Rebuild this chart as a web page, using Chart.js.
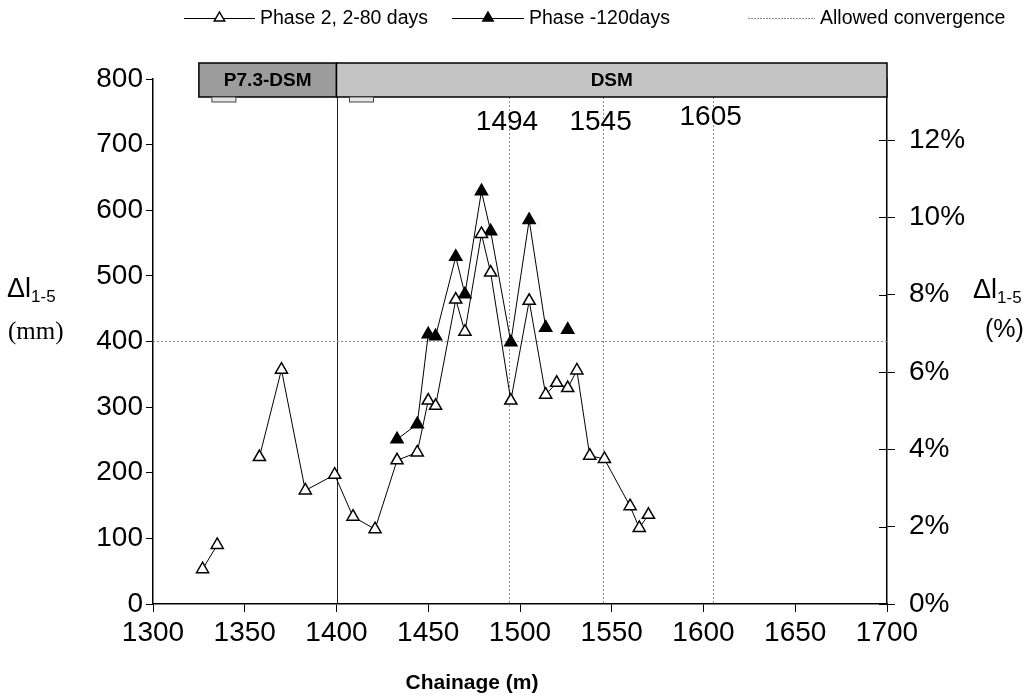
<!DOCTYPE html>
<html>
<head>
<meta charset="utf-8">
<script src="https://cdn.jsdelivr.net/npm/chart.js@4/dist/chart.umd.min.js"></script>
<style>
  html, body { margin: 0; padding: 0; background: #fff; }
</style>
</head>
<body>
<canvas id="c" width="1033" height="696"></canvas>
<script>
'use strict';

// Convergence Δl1-5 along the chainage, two survey phases plus the allowed limit.
// null values break the line where the original chart has no segment.
const phase2Chainage = [1327, 1335, 1346, 1358, 1370, 1383, 1399, 1409, 1421, 1433, 1444, 1450, 1454,
                        1465, 1470, 1479, 1484, 1495, 1505, 1514, 1520, 1526, 1531, 1538, 1546, 1560, 1565, 1570];
const phase2Values   = [53, 90, null, 224, 357, 173, 197, 133, 114, 219, 231, 310, 302,
                        464, 415, 564, 505, 310, 462, 319, 337, 329, 356, 226, 221, 149, 116, 136];

const phase120Chainage = [1433, 1444, 1450, 1454, 1465, 1470, 1479, 1484, 1495, 1505, 1514, 1520, 1526];
const phase120Values   = [251, 274, 411, 408, 529, 472, 629, 568, 399, 585, 421, null, 418];

const allowedChainage = [1300, 1700];
const allowedValues   = [400, 400];

const xTicks   = [1300, 1350, 1400, 1450, 1500, 1550, 1600, 1650, 1700];
const yTicks   = [0, 100, 200, 300, 400, 500, 600, 700, 800];
const pctTicks = [0, 2, 4, 6, 8, 10, 12];
const PCT_MAX  = 13.58;          // right axis top, matching 800 mm on the left

const refChainages = [1494, 1545, 1605];
const refLabels    = ['1494', '1545', '1605'];
const zoneStart = [1325, 1400];
const zoneEnd   = [1400, 1700];
const zoneNames = ['P7.3-DSM', 'DSM'];
const zoneFills = ['#9c9c9c', '#c4c4c4'];

const SANS  = "'Liberation Sans', Arial, sans-serif";
const SERIF = "'Liberation Serif', 'Times New Roman', serif";

const toPoints = (xs, ys) => xs.map((x, i) => ({x, y: ys[i]}));

function triangle(ctx, x, y, r, filled) {
  ctx.beginPath();
  ctx.moveTo(x, y - r);
  ctx.lineTo(x + r * 0.866, y + r * 0.5);
  ctx.lineTo(x - r * 0.866, y + r * 0.5);
  ctx.closePath();
  ctx.fillStyle = filled ? '#000' : '#fff';
  ctx.fill();
  ctx.lineWidth = 1.5;
  ctx.strokeStyle = '#000';
  ctx.stroke();
}

// ── Decorations: zone bar, reference lines, legend, axis titles ─────────
const decor = {
  id: 'decor',
  beforeDatasetsDraw(chart) {
    const {ctx, chartArea: ca} = chart;
    const xs = chart.scales.x;
    const barTop = 63, barBot = 97;
    ctx.save();

    // reference chainages (dotted) + zone boundary (solid)
    ctx.lineWidth = 1;
    ctx.strokeStyle = '#8a8a8a';
    ctx.setLineDash([2, 2]);
    for (const c of refChainages) {
      const px = Math.round(xs.getPixelForValue(c)) + 0.5;
      ctx.beginPath(); ctx.moveTo(px, barBot); ctx.lineTo(px, ca.bottom); ctx.stroke();
    }
    ctx.setLineDash([]);
    ctx.strokeStyle = '#222';
    const bx = Math.round(xs.getPixelForValue(1400)) + 0.5;
    ctx.beginPath(); ctx.moveTo(bx, barBot); ctx.lineTo(bx, ca.bottom); ctx.stroke();

    // zone bar
    for (let i = 0; i < zoneNames.length; i++) {
      const x0 = xs.getPixelForValue(zoneStart[i]);
      const x1 = xs.getPixelForValue(zoneEnd[i]);
      ctx.fillStyle = zoneFills[i];
      ctx.fillRect(x0, barTop, x1 - x0, barBot - barTop);
      ctx.lineWidth = 1.5;
      ctx.strokeStyle = '#000';
      ctx.strokeRect(x0, barTop, x1 - x0, barBot - barTop);
      ctx.fillStyle = '#000';
      ctx.font = 'bold 19px ' + SANS;
      ctx.textAlign = 'center';
      ctx.textBaseline = 'middle';
      ctx.fillText(zoneNames[i], (x0 + x1) / 2, (barTop + barBot) / 2 + 1);

      // small tabs under each zone start
      ctx.fillStyle = '#e6e6e6';
      ctx.strokeStyle = '#444';
      ctx.lineWidth = 1;
      ctx.fillRect(x0 + 13, barBot, 24, 5);
      ctx.strokeRect(x0 + 13, barBot, 24, 5);
    }

    // reference labels
    ctx.fillStyle = '#000';
    ctx.font = '28px ' + SANS;
    ctx.textAlign = 'center';
    ctx.textBaseline = 'middle';
    refChainages.forEach((c, i) => {
      ctx.fillText(refLabels[i], xs.getPixelForValue(c) - 2, i === 2 ? 117 : 122);
    });
    ctx.restore();
  },
  afterDraw(chart) {
    const {ctx, chartArea: ca} = chart;
    const r = chart.scales.y1;
    ctx.save();

    // right axis ticks also reach into the plot
    ctx.strokeStyle = '#000';
    ctx.lineWidth = 1;
    for (const v of pctTicks) {
      const py = Math.round(r.getPixelForValue(v)) + 0.5;
      ctx.beginPath(); ctx.moveTo(ca.right - 8, py); ctx.lineTo(ca.right, py); ctx.stroke();
    }

    // legend
    const ly = 18;
    ctx.font = '19.5px ' + SANS;
    ctx.textBaseline = 'middle';
    ctx.textAlign = 'left';
    const legend = [
      {x0: 184, x1: 255, text: chart.data.datasets[0].label, mark: 'open'},
      {x0: 452, x1: 524, text: chart.data.datasets[1].label, mark: 'filled'},
      {x0: 748, x1: 815, text: chart.data.datasets[2].label, mark: null},
    ];
    for (const it of legend) {
      ctx.lineWidth = 1;
      ctx.strokeStyle = it.mark ? '#000' : '#8a8a8a';
      ctx.setLineDash(it.mark ? [] : [2, 1]);
      ctx.beginPath(); ctx.moveTo(it.x0, ly + 0.5); ctx.lineTo(it.x1, ly + 0.5); ctx.stroke();
      ctx.setLineDash([]);
      if (it.mark) triangle(ctx, (it.x0 + it.x1) / 2, ly, 6, it.mark === 'filled');
      ctx.fillStyle = '#000';
      ctx.fillText(it.text, it.x1 + 5, ly + 1);
    }

    // axis titles
    ctx.textAlign = 'left';
    ctx.textBaseline = 'alphabetic';
    const deltaLabel = (x, y) => {
      ctx.font = '27px ' + SANS;
      ctx.fillText('Δl', x, y);
      const w = ctx.measureText('Δl').width;
      ctx.font = '17px ' + SANS;
      ctx.fillText('1-5', x + w, y + 5);
    };
    deltaLabel(7, 297);
    ctx.font = '25px ' + SERIF;
    ctx.fillText('(mm)', 8, 339);
    deltaLabel(973, 298);
    ctx.font = '25px ' + SANS;
    ctx.fillText('(%)', 985, 337);

    ctx.font = 'bold 21px ' + SANS;
    ctx.textAlign = 'center';
    ctx.fillText('Chainage (m)', 472, 689);
    ctx.restore();
  },
};

const tickFont = {family: SANS, size: 28};

new Chart(document.getElementById('c'), {
  type: 'line',
  data: {
    datasets: [
      {
        label: 'Phase 2, 2-80 days',
        data: toPoints(phase2Chainage, phase2Values),
        borderColor: '#000', borderWidth: 1,
        pointStyle: 'triangle', pointRadius: 7,
        pointBackgroundColor: '#fff', pointBorderColor: '#000', pointBorderWidth: 1.5,
        spanGaps: false, tension: 0, yAxisID: 'y',
      },
      {
        label: 'Phase -120days',
        data: toPoints(phase120Chainage, phase120Values),
        borderColor: '#000', borderWidth: 1,
        pointStyle: 'triangle', pointRadius: 7,
        pointBackgroundColor: '#000', pointBorderColor: '#000', pointBorderWidth: 1.5,
        spanGaps: false, tension: 0, yAxisID: 'y',
      },
      {
        label: 'Allowed convergence',
        data: toPoints(allowedChainage, allowedValues),
        borderColor: '#8a8a8a', borderWidth: 1, borderDash: [2, 2],
        pointRadius: 0, tension: 0, yAxisID: 'y',
      },
    ],
  },
  options: {
    responsive: false,
    animation: false,
    devicePixelRatio: 1,
    layout: {padding: {top: 79, left: 0, right: 0, bottom: 0}},
    plugins: {legend: {display: false}, tooltip: {enabled: false}},
    scales: {
      x: {
        type: 'linear', min: 1300, max: 1700,
        afterBuildTicks: s => { s.ticks = xTicks.map(v => ({value: v})); },
        afterFit: s => { s.height = 92; },
        ticks: {color: '#000', font: tickFont, padding: 4, maxRotation: 0, callback: v => String(v)},
        grid: {drawOnChartArea: false, drawTicks: true, tickLength: 8, color: '#000', lineWidth: 1},
        border: {color: '#000', width: 1.5},
      },
      y: {
        type: 'linear', position: 'left', min: 0, max: 800,
        afterBuildTicks: s => { s.ticks = yTicks.map(v => ({value: v})); },
        afterFit: s => { s.width = 153; },
        ticks: {color: '#000', font: tickFont, padding: 3, callback: v => String(v)},
        grid: {drawOnChartArea: false, drawTicks: true, tickLength: 7, color: '#000', lineWidth: 1},
        border: {color: '#000', width: 1.5},
      },
      y1: {
        type: 'linear', position: 'right', min: 0, max: PCT_MAX,
        afterBuildTicks: s => { s.ticks = pctTicks.map(v => ({value: v})); },
        afterFit: s => { s.width = 146; },
        ticks: {color: '#000', font: tickFont, padding: 14, callback: v => v + '%'},
        grid: {drawOnChartArea: false, drawTicks: true, tickLength: 8, color: '#000', lineWidth: 1},
        border: {color: '#000', width: 1.5},
      },
    },
  },
  plugins: [decor],
});
</script>
</body>
</html>
